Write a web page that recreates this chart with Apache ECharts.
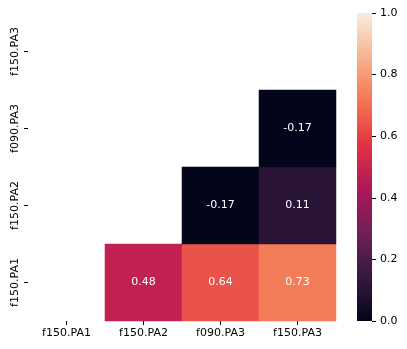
<!DOCTYPE html>
<html>
<head>
<meta charset="utf-8">
<script src="https://cdn.jsdelivr.net/npm/echarts@6/dist/echarts.min.js"></script>
<style>
  html, body { margin: 0; padding: 0; background: #fff; }
  #chart { width: 407px; height: 349px; }
</style>
</head>
<body>
<div id="chart"></div>
<script>
// 分类（x 从左到右，y 从下到上）
var names = ['f150.PA1', 'f150.PA2', 'f090.PA3', 'f150.PA3'];
// 下三角相关系数 [x, y, value]
var cells = [
    [1, 0, 0.48], [2, 0, 0.64], [3, 0, 0.73],
    [2, 1, -0.17], [3, 1, 0.11],
    [3, 2, -0.17]
];
// rocket 色带
var rocket = ['#03051A', '#35193E', '#701F57', '#AD1759', '#E13342', '#F37651', '#F6B48F', '#FAEBDD'];

var font = 'DejaVu Sans';
var chart = echarts.init(document.getElementById('chart'));

// 色条渐变
var stops = rocket.map(function (c, i) {
    return { offset: i / (rocket.length - 1), color: c };
});

var option = {
    animation: false,
    textStyle: { fontFamily: font },
    grid: [
        { left: 28, top: 13, width: 308, height: 308 },
        { left: 357, top: 13, width: 15, height: 308 }
    ],
    xAxis: [{
        type: 'category',
        data: names,
        axisLine: { show: false },
        axisTick: { show: true, alignWithLabel: true, length: 4, lineStyle: { color: '#000' } },
        axisLabel: { color: '#000', fontSize: 11, margin: 7, fontFamily: font },
        splitLine: { show: false }
    }, {
        gridIndex: 1,
        type: 'category',
        data: ['bar'],
        show: false
    }],
    yAxis: [{
        type: 'category',
        data: names,
        axisLine: { show: false },
        axisTick: { show: true, alignWithLabel: true, length: 4, lineStyle: { color: '#000' } },
        axisLabel: { color: '#000', fontSize: 11, margin: 7, rotate: 90, fontFamily: font },
        splitLine: { show: false }
    }, {
        gridIndex: 1,
        type: 'value',
        position: 'right',
        min: 0,
        max: 1,
        interval: 0.2,
        axisLine: { show: false },
        axisTick: { show: true, length: 4, lineStyle: { color: '#000' } },
        axisLabel: {
            color: '#000', fontSize: 11, margin: 8, fontFamily: font,
            formatter: function (v) { return v.toFixed(1); }
        },
        splitLine: { show: false }
    }],
    visualMap: {
        type: 'continuous',
        show: false,
        min: 0,
        max: 1,
        seriesIndex: 0,
        inRange: { color: rocket }
    },
    series: [{
        type: 'heatmap',
        data: cells,
        label: {
            show: true,
            color: '#fff',
            fontSize: 11,
            fontFamily: font,
            formatter: function (p) { return p.value[2].toFixed(2); }
        },
        emphasis: { disabled: true }
    }, {
        type: 'bar',
        xAxisIndex: 1,
        yAxisIndex: 1,
        data: [1],
        barWidth: '100%',
        silent: true,
        itemStyle: { color: new echarts.graphic.LinearGradient(0, 1, 0, 0, stops) }
    }]
};
chart.setOption(option);
</script>
</body>
</html>
